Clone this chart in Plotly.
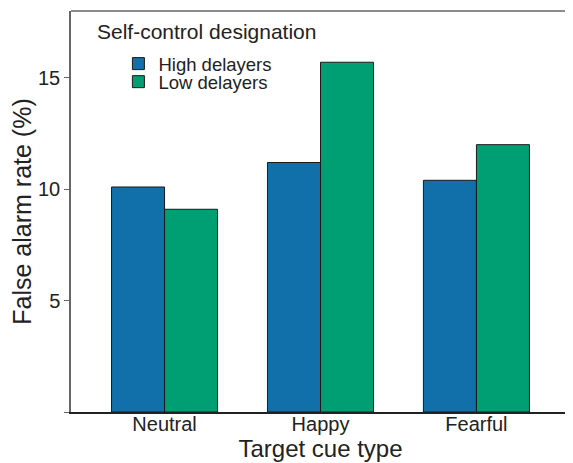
import plotly.graph_objects as go

categories = ["Neutral", "Happy", "Fearful"]
high_delayers = [10.1, 11.2, 10.4]
low_delayers = [9.1, 15.7, 12.0]
ytick_vals = [0, 5, 10, 15]
ytick_text = ["", "5", "10", "15"]

FONT = "Liberation Sans, Arial, sans-serif"
TXT = "#222222"

fig = go.Figure()
fig.add_trace(go.Bar(x=categories, y=high_delayers, name="High delayers", legend="legend",
                     marker=dict(color="#1170AA", line=dict(color="#1a1a1a", width=1))))
fig.add_trace(go.Bar(x=categories, y=low_delayers, name="Low delayers", legend="legend2",
                     marker=dict(color="#009E73", line=dict(color="#1a1a1a", width=1))))

leg_common = dict(xanchor="left", yanchor="top", bgcolor="rgba(0,0,0,0)",
                  font=dict(size=18.5, family=FONT, color=TXT), itemwidth=30)

# page has an 8px body margin, so the figure is 8px smaller than the window
fig.update_layout(
    width=565, height=455,
    margin=dict(l=63, r=1, t=3, b=51),
    paper_bgcolor="white", plot_bgcolor="white",
    font=dict(family=FONT, color=TXT),
    barmode="group", bargap=0.32, bargroupgap=0,
    showlegend=True,
    legend=dict(x=0.095, y=0.915, **leg_common),
    legend2=dict(x=0.095, y=0.870, **leg_common),
    annotations=[dict(text="Self-control designation", x=0.048, y=0.948,
                      xref="paper", yref="paper", xanchor="left", yanchor="middle",
                      showarrow=False, font=dict(size=21, family=FONT, color=TXT))],
)
fig.update_xaxes(range=[-0.6, 2.6], showline=True, linecolor="#222222", linewidth=1.5,
                 mirror=False, ticks="", tickfont=dict(size=20), ticklabelstandoff=-7,
                 title=dict(text="Target cue type", font=dict(size=24), standoff=4))
fig.update_yaxes(range=[0, 18], tickvals=ytick_vals, ticktext=ytick_text,
                 showline=True, linecolor="#666666", linewidth=1.5, mirror=True,
                 ticks="outside", ticklen=5, tickcolor="#666666", tickwidth=1,
                 showgrid=False, zeroline=False, tickfont=dict(size=20),
                 title=dict(text="False alarm rate (%)", font=dict(size=25), standoff=9))
# top frame line
fig.add_shape(type="line", xref="paper", yref="paper", x0=0, x1=1, y0=1, y1=1,
              line=dict(color="#666666", width=1.5))

fig.write_html("out.html")
